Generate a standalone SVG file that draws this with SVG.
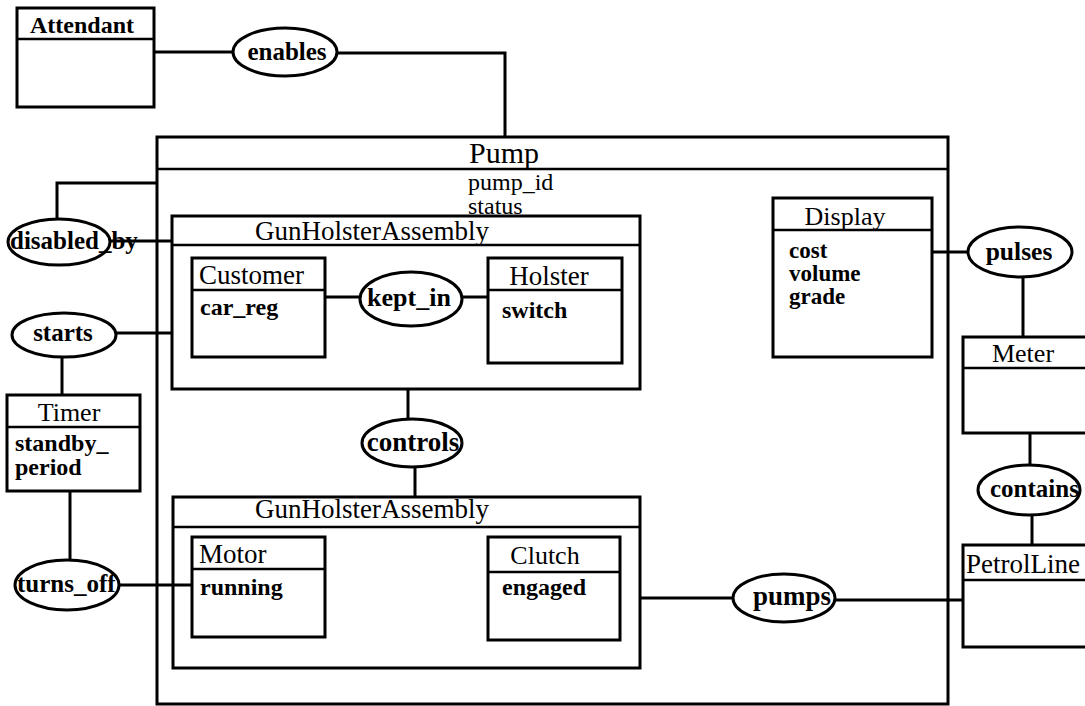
<svg xmlns="http://www.w3.org/2000/svg" width="1085" height="706" viewBox="0 0 1085 706">
<style>
  .box { fill: none; stroke: #000; stroke-width: 3; }
  .hdr { fill: none; stroke: #000; stroke-width: 2.5; }
  .rel { fill: #fff; stroke: #000; stroke-width: 3; }
  .con { fill: none; stroke: #000; stroke-width: 3; }
  text { font-family: "Liberation Serif", "Times New Roman", serif; font-size: 25px; fill: #000; }
  .t { font-size: 27px; }
  .b { font-weight: bold; }
  .m { text-anchor: middle; }
  .a { font-size: 24px; font-weight: bold; }
</style>
<rect width="1085" height="706" fill="#fff"/>

<g id="connectors">
  <path class="con" d="M154 52 H233"/>
  <path class="con" d="M337 53 H505 V137"/>
  <path class="con" d="M57 219 V183 H157"/>
  <path class="con" d="M110 241 H172"/>
  <path class="con" d="M117 333 H172"/>
  <path class="con" d="M62 357 V395"/>
  <path class="con" d="M70 491 V560"/>
  <path class="con" d="M119 585 H192"/>
  <path class="con" d="M325 297 H360"/>
  <path class="con" d="M462 297 H488"/>
  <path class="con" d="M408 389 V419"/>
  <path class="con" d="M415 467 V497"/>
  <path class="con" d="M640 598 H733"/>
  <path class="con" d="M835 600 H963"/>
  <path class="con" d="M932 252 H968"/>
  <path class="con" d="M1023 277 V337"/>
  <path class="con" d="M1030 433 V465"/>
  <path class="con" d="M1032 515 V545"/>
</g>

<g id="Attendant">
  <rect class="box" x="17" y="8" width="137" height="99"/>
  <line class="hdr" x1="17" y1="39" x2="154" y2="39"/>
  <text class="b m" x="82" y="33" style="font-size:24px">Attendant</text>
</g>

<g id="Pump">
  <rect class="box" x="157" y="137" width="791" height="567"/>
  <line class="hdr" x1="157" y1="169" x2="948" y2="169"/>
  <text class="m" x="504" y="163" style="font-size:30px">Pump</text>
  <text style="font-size:24px"><tspan x="468" y="190">pump_id</tspan><tspan x="468" y="214">status</tspan></text>
</g>

<g id="GunHolsterAssembly1">
  <rect class="box" x="172" y="216" width="468" height="173"/>
  <line class="hdr" x1="172" y1="245" x2="640" y2="245"/>
  <text class="t m" x="372" y="240">GunHolsterAssembly</text>
</g>

<g id="Customer">
  <rect class="box" x="192" y="258" width="133" height="99"/>
  <line class="hdr" x1="192" y1="290" x2="325" y2="290"/>
  <text class="t" x="199" y="284">Customer</text>
  <text class="a" x="200" y="315">car_reg</text>
</g>

<g id="Holster">
  <rect class="box" x="488" y="258" width="134" height="105"/>
  <line class="hdr" x1="488" y1="290" x2="622" y2="290"/>
  <text class="t m" x="549" y="285">Holster</text>
  <text class="a" x="502" y="318">switch</text>
</g>

<g id="GunHolsterAssembly2">
  <rect class="box" x="173" y="497" width="467" height="171"/>
  <line class="hdr" x1="173" y1="527" x2="640" y2="527"/>
  <text class="t m" x="372" y="518">GunHolsterAssembly</text>
</g>

<g id="Motor">
  <rect class="box" x="192" y="537" width="133" height="100"/>
  <line class="hdr" x1="192" y1="569" x2="325" y2="569"/>
  <text class="t" x="199" y="563">Motor</text>
  <text class="a" x="200" y="595">running</text>
</g>

<g id="Clutch">
  <rect class="box" x="488" y="537" width="132" height="103"/>
  <line class="hdr" x1="488" y1="572" x2="620" y2="572"/>
  <text class="m" x="545" y="564" style="font-size:26px">Clutch</text>
  <text class="a" x="502" y="595">engaged</text>
</g>

<g id="Display">
  <rect class="box" x="773" y="198" width="159" height="159"/>
  <line class="hdr" x1="773" y1="230" x2="932" y2="230"/>
  <text class="m" x="845" y="225" style="font-size:26px">Display</text>
  <text class="b" style="font-size:23px"><tspan x="789" y="258">cost</tspan><tspan x="789" y="281">volume</tspan><tspan x="789" y="304">grade</tspan></text>
</g>

<g id="Timer">
  <rect class="box" x="7" y="395" width="133" height="96"/>
  <line class="hdr" x1="7" y1="427" x2="140" y2="427"/>
  <text class="m" x="69" y="421" style="font-size:26px">Timer</text>
  <text class="a"><tspan x="15" y="451">standby_</tspan><tspan x="15" y="475">period</tspan></text>
</g>

<g id="Meter">
  <rect class="box" x="963" y="337" width="130" height="96"/>
  <line class="hdr" x1="963" y1="368" x2="1093" y2="368"/>
  <text class="m" x="1023" y="362" style="font-size:26px">Meter</text>
</g>

<g id="PetrolLine">
  <rect class="box" x="963" y="545" width="130" height="102"/>
  <line class="hdr" x1="963" y1="580" x2="1093" y2="580"/>
  <text class="t" x="966" y="573">PetrolLine</text>
</g>

<g id="enables">
  <ellipse class="rel" cx="285" cy="52" rx="52" ry="24"/>
  <text class="b m" x="287" y="60">enables</text>
</g>
<g id="disabled_by">
  <ellipse class="rel" cx="59" cy="242" rx="51" ry="23"/>
  <text class="b" x="10" y="249">disabled_by</text>
</g>
<g id="starts">
  <ellipse class="rel" cx="64" cy="335" rx="52" ry="22"/>
  <text class="b m" x="63" y="341">starts</text>
</g>
<g id="turns_off">
  <ellipse class="rel" cx="67" cy="585" rx="52" ry="25"/>
  <text class="b" x="17" y="592">turns_off</text>
</g>
<g id="kept_in">
  <ellipse class="rel" cx="411" cy="299" rx="51" ry="27"/>
  <text class="b m" x="409" y="306" style="font-size:26px">kept_in</text>
</g>
<g id="controls">
  <ellipse class="rel" cx="412" cy="443" rx="50" ry="24"/>
  <text class="b m" x="413" y="451" style="font-size:27px">controls</text>
</g>
<g id="pulses">
  <ellipse class="rel" cx="1020" cy="252" rx="52" ry="25"/>
  <text class="b m" x="1019" y="260" style="font-size:25.5px">pulses</text>
</g>
<g id="contains">
  <ellipse class="rel" cx="1029" cy="490" rx="51" ry="25"/>
  <text class="b" x="990" y="497">contains</text>
</g>
<g id="pumps">
  <ellipse class="rel" cx="784" cy="598" rx="51" ry="24"/>
  <text class="b m" x="792" y="605" style="font-size:27px">pumps</text>
</g>
</svg>
